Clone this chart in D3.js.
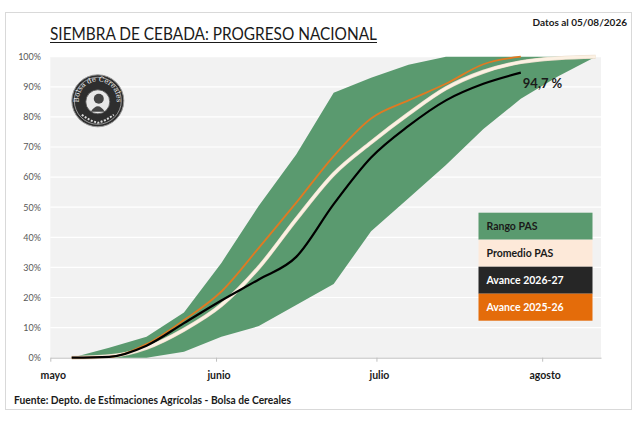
<!DOCTYPE html>
<html>
<head>
<meta charset="utf-8">
<script src="https://cdn.jsdelivr.net/npm/d3@7"></script>
<style>
  body { margin: 0; background: #fff; }
  svg { display: block; font-family: Lato, "Open Sans", sans-serif; }
</style>
</head>
<body>
<svg id="chart" width="640" height="424"></svg>
<script>
// weekly survey dates (2026 season)
const weekDates = ["2026-05-05", "2026-05-12", "2026-05-19", "2026-05-26", "2026-06-02",
    "2026-06-09", "2026-06-16", "2026-06-23", "2026-06-30", "2026-07-07",
    "2026-07-14", "2026-07-21", "2026-07-28", "2026-08-04", "2026-08-11"];

// % sown
const rangoMin = [0, 0, 0, 2, 7, 10.5, 17.5, 24.5, 42, 53, 64, 76, 86, 93.5, 100];
const rangoMax = [0, 3.3, 7, 15, 31.5, 50.5, 67.5, 88, 93, 97.3, 100, 100, 100, 100, 100];
const promedioPAS = [0, 0.5, 3.3, 9.3, 17.5, 30, 46, 61, 71.5, 81, 89.5, 95, 98.2, 99.5, 100];
const avance2026 = [0, 0.3, 4, 11.5, 19, 26, 33.5, 51, 66.5, 77, 85.5, 91, 94.7];
const avance2025 = [0, 0.3, 4.5, 12.5, 22, 36.5, 51.5, 67, 79.5, 85.5, 91, 97.5, 100];

const yTicks = [0, 10, 20, 30, 40, 50, 60, 70, 80, 90, 100];
const monthTicks = ["2026-05-01", "2026-06-01", "2026-07-01", "2026-08-01"];
const monthLabels = ["mayo", "junio", "julio", "agosto"];

const legendItems = [
    {label: "Rango PAS", fill: "#5a9a6f", text: "#1a1a1a"},
    {label: "Promedio PAS", fill: "#fde9d9", text: "#1a1a1a"},
    {label: "Avance 2026-27", fill: "#262626", text: "#ffffff"},
    {label: "Avance 2025-26", fill: "#e46c0a", text: "#ffffff"}
];

const parse = d3.timeParse("%Y-%m-%d");
const dates = weekDates.map(parse);

const svg = d3.select("#chart");

// outer frame
svg.append("rect")
    .attr("x", 5.5).attr("y", 12.5)
    .attr("width", 626).attr("height", 397)
    .attr("fill", "#fff").attr("stroke", "#d9d9d9");

const margin = {left: 50.3, right: 39, top: 56.7, bottom: 66.3};
const W = 640, H = 424;

const x = d3.scaleTime()
    .domain([parse("2026-05-01"), parse("2026-08-12")])
    .range([margin.left, W - margin.right]);
const y = d3.scaleLinear()
    .domain([0, 100])
    .range([H - margin.bottom, margin.top]);

// plot background
svg.append("rect")
    .attr("x", x.range()[0]).attr("y", y(100))
    .attr("width", x.range()[1] - x.range()[0])
    .attr("height", y(0) - y(100))
    .attr("fill", "#f2f2f2");

// gridlines
svg.append("g")
    .selectAll("line")
    .data(yTicks.filter(d => d > 0))
    .join("line")
    .attr("x1", x.range()[0]).attr("x2", x.range()[1])
    .attr("y1", d => y(d)).attr("y2", d => y(d))
    .attr("stroke", "#ffffff").attr("stroke-width", 1.2);

// y labels
svg.append("g")
    .selectAll("text")
    .data(yTicks)
    .join("text")
    .attr("x", 41)
    .attr("y", d => y(d) + 3.3)
    .attr("text-anchor", "end")
    .attr("font-size", 9)
    .attr("fill", "#595959")
    .text(d => d + "%");

// x axis
const xaxis = d3.axisBottom(x)
    .tickValues(monthTicks.map(parse))
    .tickFormat((d, i) => monthLabels[i])
    .tickSize(4)
    .tickSizeOuter(0);

const xg = svg.append("g")
    .attr("transform", `translate(0, ${y(0)})`)
    .call(xaxis);
xg.select(".domain").attr("stroke", "#bfbfbf");
xg.selectAll(".tick line").attr("stroke", "#bfbfbf");
xg.selectAll(".tick text")
    .attr("y", 14).attr("dx", 2.5)
    .attr("font-family", "Lato, sans-serif")
    .attr("font-size", 10.5)
    .attr("font-weight", "bold")
    .attr("fill", "#1a1a1a");

// range band
const band = d3.area()
    .x((d, i) => x(dates[i]))
    .y0((d, i) => y(rangoMin[i]))
    .y1((d, i) => y(rangoMax[i]));

svg.append("path")
    .datum(rangoMax)
    .attr("d", band)
    .attr("fill", "#5a9a6f");

const line = d3.line()
    .x((d, i) => x(dates[i]))
    .y(d => y(d))
    .curve(d3.curveMonotoneX);

svg.append("path")
    .datum(promedioPAS)
    .attr("d", line)
    .attr("fill", "none")
    .attr("stroke", "#e9dccb")
    .attr("stroke-width", 4);
svg.append("path")
    .datum(promedioPAS)
    .attr("d", line)
    .attr("fill", "none")
    .attr("stroke", "#fcf1e3")
    .attr("stroke-width", 2.8);

svg.append("path")
    .datum(avance2025)
    .attr("d", line)
    .attr("fill", "none")
    .attr("stroke", "#e07a22")
    .attr("stroke-width", 1.8);

svg.append("path")
    .datum(avance2026)
    .attr("d", line)
    .attr("fill", "none")
    .attr("stroke", "#000000")
    .attr("stroke-width", 2.2);

// last value label
const lastIdx = avance2026.length - 1;
svg.append("text")
    .attr("x", x(dates[lastIdx]) + 2)
    .attr("y", y(avance2026[lastIdx]) + 15)
    .attr("font-size", 13)
    .attr("font-weight", "bold")
    .attr("fill", "#1a1a1a")
    .text(String(avance2026[lastIdx]).replace(".", ",") + " %");

// legend
const legend = svg.append("g").attr("transform", "translate(478.5, 212.7)");
const rows = legend.selectAll("g")
    .data(legendItems)
    .join("g")
    .attr("transform", (d, i) => `translate(0, ${i * 27})`);
rows.append("rect")
    .attr("width", 114).attr("height", 27)
    .attr("fill", d => d.fill);
rows.append("text")
    .attr("x", 8).attr("y", 17)
    .attr("font-size", 10.5)
    .attr("font-weight", "bold")
    .attr("fill", d => d.text)
    .text(d => d.label);

// logo seal
const logo = svg.append("g").attr("transform", "translate(97.8, 100.8)");
logo.append("circle").attr("r", 26).attr("fill", "#2e2e2e").attr("stroke", "#9a9a9a").attr("stroke-width", 1);
logo.append("circle").attr("r", 23.5).attr("fill", "none").attr("stroke", "#dcdcdc").attr("stroke-width", 0.6);
logo.append("path")
    .attr("id", "sealArc")
    .attr("d", "M -17 8 A 19 19 0 1 1 17 8")
    .attr("fill", "none");
logo.append("text")
    .attr("font-family", "DejaVu Serif, serif")
    .attr("font-size", 7)
    .attr("fill", "#f2f2f2")
    .append("textPath")
    .attr("href", "#sealArc")
    .attr("startOffset", "50%")
    .attr("text-anchor", "middle")
    .text("Bolsa de Cereales");
logo.append("circle").attr("r", 12).attr("cy", 1).attr("fill", "#e8e8e8").attr("stroke", "#555").attr("stroke-width", 0.8);
logo.append("circle").attr("r", 5).attr("cx", 1).attr("cy", -2).attr("fill", "#444");
logo.append("path").attr("d", "M -7 11 Q 0 0 7 11 Z").attr("fill", "#444");
logo.append("path")
    .attr("d", "M -16 14 Q -8 20 0 22 Q 8 20 16 14")
    .attr("fill", "none").attr("stroke", "#dcdcdc").attr("stroke-width", 2).attr("stroke-dasharray", "2 1.5");

// title
svg.append("text")
    .attr("x", 50).attr("y", 39.5)
    .attr("font-size", 17)
    .attr("textLength", 327)
    .attr("lengthAdjust", "spacingAndGlyphs")
    .attr("fill", "#1a1a1a")
    .text("SIEMBRA DE CEBADA: PROGRESO NACIONAL");
svg.append("line")
    .attr("x1", 50).attr("x2", 377)
    .attr("y1", 42.5).attr("y2", 42.5)
    .attr("stroke", "#1a1a1a").attr("stroke-width", 1);

svg.append("text")
    .attr("x", 627).attr("y", 26)
    .attr("text-anchor", "end")
    .attr("font-size", 10)
    .attr("font-weight", "bold")
    .attr("fill", "#1a1a1a")
    .text("Datos al 05/08/2026");

svg.append("text")
    .attr("x", 14).attr("y", 404)
    .attr("font-size", 10.5)
    .attr("font-weight", "bold")
    .attr("textLength", 277)
    .attr("lengthAdjust", "spacingAndGlyphs")
    .attr("fill", "#1a1a1a")
    .text("Fuente: Depto. de Estimaciones Agrícolas - Bolsa de Cereales");
</script>
</body>
</html>
